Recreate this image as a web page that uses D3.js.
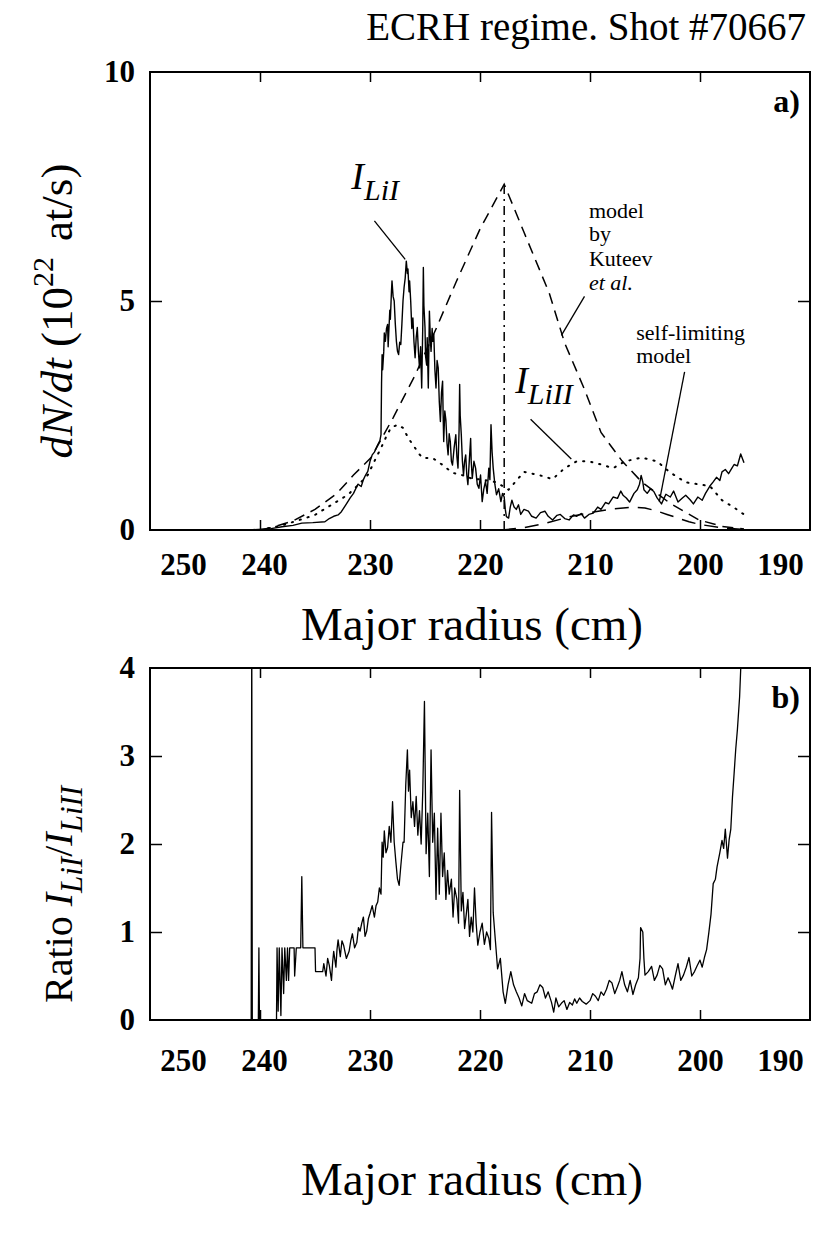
<!DOCTYPE html>
<html><head><meta charset="utf-8">
<script src="https://cdn.jsdelivr.net/npm/d3@7"></script>
<style>
body{margin:0;background:#fff}
svg text{font-family:'Liberation Serif','DejaVu Serif','Times New Roman',serif !important}
</style>
</head><body>
<svg id="c" width="823" height="1253"></svg>
<script>
// ---------------- data ----------------
const xTickValues=[250,240,230,220,210,200,190];
const xInnerTicks=[240,230,220,210,200];
const yTicksA=[0,5,10];
const yTicksB=[0,1,2,3,4];

// panel a: I_LiI (solid)
const intensityLiI=[[241,0],[239,0.03],[238,0.07],[237,0.1],[236.2,0.15],[235.2,0.16],[234.1,0.18],[233.7,0.25],[233.3,0.3],[232.9,0.33],[232.6,0.4],[232.2,0.55],[231.8,0.7],[231.5,0.8],[231.1,1.0],[230.8,0.95],[230.6,1.1],[230.4,1.2],[230.2,1.28],[230.0,1.5],[229.8,1.64],[229.6,1.7],[229.3,1.86],[229.1,1.95],[229.0,2.08],[228.95,3.2],[228.9,3.83],[228.85,3.5],[228.75,3.9],[228.7,4.3],[228.6,4.12],[228.5,4.4],[228.4,4.49],[228.35,4.0],[228.3,4.27],[228.2,4.8],[228.15,4.6],[228.05,5.2],[228.0,5.44],[227.9,5.1],[227.8,5.0],[227.7,4.5],[227.6,4.12],[227.5,3.9],[227.4,3.83],[227.3,4.1],[227.2,4.05],[227.1,4.5],[227.0,5.0],[226.9,5.3],[226.8,5.5],[226.7,5.87],[226.6,5.6],[226.55,5.7],[226.45,5.2],[226.4,5.44],[226.3,5.0],[226.2,4.4],[226.1,4.63],[226.0,4.1],[225.9,3.76],[225.8,4.2],[225.7,4.42],[225.6,3.9],[225.5,3.54],[225.4,4.0],[225.3,3.1],[225.2,4.5],[225.15,5.73],[225.1,4.9],[225.0,4.42],[224.95,3.8],[224.85,3.6],[224.8,4.2],[224.7,3.1],[224.65,3.9],[224.6,4.78],[224.5,4.1],[224.45,3.9],[224.35,4.4],[224.3,4.12],[224.2,4.27],[224.1,3.5],[224.0,3.1],[223.9,3.7],[223.8,3.54],[223.7,2.8],[223.6,2.37],[223.5,3.0],[223.4,3.25],[223.35,2.5],[223.3,1.93],[223.2,2.6],[223.1,2.4],[223.0,1.9],[222.9,1.64],[222.8,2.1],[222.7,1.93],[222.6,1.5],[222.5,1.42],[222.35,1.8],[222.2,2.08],[222.1,1.6],[222.0,1.35],[221.9,2.2],[221.85,3.18],[221.8,2.5],[221.7,2.08],[221.6,1.5],[221.5,1.2],[221.4,1.5],[221.3,1.64],[221.2,1.2],[221.1,0.99],[221.0,1.4],[220.85,2.0],[220.8,1.5],[220.7,1.13],[220.55,1.5],[220.4,1.35],[220.25,1.0],[220.1,0.91],[219.95,1.2],[219.8,0.62],[219.65,0.9],[219.5,1.06],[219.35,0.8],[219.2,1.35],[219.1,1.1],[219.0,2.3],[218.9,1.7],[218.8,1.35],[218.65,1.0],[218.5,0.77],[218.3,0.9],[218.1,0.62],[217.95,0.8],[217.8,0.72],[217.7,0.45],[217.6,0.29],[217.4,0.26],[217.25,0.5],[217.1,0.65],[216.9,0.5],[216.7,0.45],[216.5,0.55],[216.3,0.34],[216.0,0.45],[215.6,0.41],[215.3,0.3],[214.9,0.26],[214.5,0.38],[214.1,0.41],[213.8,0.3],[213.4,0.22],[213.0,0.32],[212.7,0.34],[212.3,0.25],[211.9,0.22],[211.5,0.33],[211.2,0.30],[210.8,0.36],[210.5,0.26],[210.1,0.34],[209.7,0.37],[209.3,0.5],[209.0,0.45],[208.6,0.6],[208.3,0.57],[207.9,0.72],[207.5,0.69],[207.2,0.85],[207.0,0.76],[206.7,0.7],[206.4,0.61],[206.0,0.8],[205.7,0.88],[205.5,1.0],[205.35,1.19],[205.2,1.05],[205.1,0.88],[204.8,0.80],[204.5,0.9],[204.2,0.84],[203.9,0.7],[203.5,0.57],[203.1,0.78],[202.7,0.72],[202.4,0.85],[202.0,0.61],[201.6,0.7],[201.3,0.76],[200.9,0.66],[200.6,0.57],[200.2,0.72],[199.8,0.65],[199.5,0.8],[199.1,0.96],[198.8,1.05],[198.5,1.15],[198.2,1.08],[198.0,1.27],[197.7,1.32],[197.4,1.23],[197.1,1.35],[196.9,1.43],[196.6,1.4],[196.3,1.66],[196.0,1.47]];

// panel a: I_LiII (dotted)
const intensityLiII=[[240,0],[238,0.1],[236,0.25],[235,0.33],[233.5,0.55],[232,0.77],[231,1.0],[230.2,1.2],[229.5,1.55],[229,1.79],[228.5,2.05],[228.1,2.23],[227.5,2.3],[227,2.23],[226.5,2.0],[226.1,1.86],[225.5,1.65],[225.2,1.57],[224.3,1.57],[223.4,1.42],[222.5,1.25],[221.5,1.19],[220.5,1.1],[220,1.11],[218.5,1.04],[217.4,0.88],[216,1.27],[214.5,1.19],[213.4,1.11],[212.3,1.35],[211.2,1.5],[210.1,1.5],[209,1.43],[207.9,1.35],[206.8,1.5],[205.3,1.58],[203.9,1.5],[202.8,1.27],[201.3,1.04],[200.2,1.0],[199.1,0.96],[198,0.65],[196.9,0.49],[196,0.34]];

// panel a: model by Kuteev et al. (dashed)
const modelKuteev=[[240,0],[239,0.05],[237,0.2],[235,0.45],[233,0.8],[231.5,1.2],[229.9,1.58],[227.9,2.45],[225.9,3.38],[224.0,4.39],[222.2,5.4],[220,6.57],[217.8,7.55],[216,6.5],[213.7,5.17],[212.3,4.08],[210.5,3.07],[209,2.13],[207.1,1.51],[205.3,1.05],[202.7,0.58],[200.1,0.22],[198,0.08],[196,0.02]];
const peakMarker=[[217.8,0],[217.8,7.55]];

// panel a: self-limiting model (long dash)
const modelSelfLimiting=[[218,0],[216,0.05],[214,0.15],[212,0.28],[210,0.38],[208,0.46],[206,0.5],[205,0.48],[204,0.42],[203,0.34],[202,0.26],[201,0.18],[200,0.12],[198,0.05],[196,0.01]];

// panel b: ratio I_LiI / I_LiII
const ratio=[[241.5,0],[240.8,0],[240.75,4.5],[240.7,0],[240.15,0],[240.1,0.82],[240.05,0],[238.5,0],[238.45,0.82],[238.35,0.1],[238.25,0.82],[238.1,0.05],[238.0,0.82],[237.85,0.3],[237.75,0.82],[237.6,0.45],[237.5,0.82],[237.4,0.45],[237.3,0.82],[236.9,0.82],[236.85,0.5],[236.7,0.82],[236.3,0.82],[236.2,1.63],[236.1,0.82],[235.0,0.82],[234.95,0.55],[234.3,0.55],[234.2,0.64],[234.0,0.5],[233.85,0.7],[233.7,0.62],[233.5,0.45],[233.4,0.65],[233.3,0.78],[233.1,0.6],[233.0,0.8],[232.9,0.91],[232.7,0.72],[232.55,0.9],[232.4,0.85],[232.15,0.7],[231.9,0.78],[231.75,0.9],[231.6,0.98],[231.4,0.82],[231.2,0.88],[231.05,1.05],[230.9,1.01],[230.75,1.1],[230.6,1.17],[230.45,0.95],[230.3,1.01],[230.15,1.15],[230.0,1.21],[229.8,1.3],[229.6,1.17],[229.45,1.3],[229.3,1.34],[229.15,1.5],[229.0,1.43],[228.9,2.02],[228.8,1.85],[228.7,2.15],[228.55,1.9],[228.4,1.96],[228.25,2.2],[228.1,2.02],[227.95,2.48],[227.8,2.02],[227.65,1.8],[227.5,1.6],[227.35,1.53],[227.2,1.75],[227.0,2.02],[226.9,2.02],[226.75,2.67],[226.6,3.07],[226.5,2.6],[226.4,2.84],[226.25,2.3],[226.1,2.48],[225.95,2.2],[225.8,2.54],[225.65,2.1],[225.5,2.38],[225.35,2.0],[225.2,2.61],[225.05,3.62],[224.9,1.89],[224.75,2.35],[224.6,1.63],[224.45,3.07],[224.3,2.02],[224.15,2.35],[224.0,1.37],[223.85,2.18],[223.7,1.43],[223.55,2.35],[223.4,1.63],[223.25,1.9],[223.1,1.37],[222.95,1.7],[222.8,1.43],[222.6,1.6],[222.45,1.17],[222.3,1.5],[222.1,1.37],[221.95,1.1],[221.85,2.61],[221.7,1.24],[221.55,1.45],[221.4,1.04],[221.25,1.2],[221.1,1.37],[220.95,0.95],[220.8,1.17],[220.65,1.0],[220.5,1.5],[220.35,1.1],[220.2,0.85],[220.0,1.0],[219.8,1.1],[219.6,0.86],[219.4,1.0],[219.2,0.93],[219.05,0.8],[218.95,2.36],[218.8,1.22],[218.6,0.9],[218.4,0.58],[218.15,0.7],[217.9,0.32],[217.7,0.19],[217.45,0.4],[217.2,0.55],[216.95,0.4],[216.7,0.32],[216.45,0.25],[216.2,0.16],[215.95,0.3],[215.7,0.22],[215.3,0.19],[215.05,0.3],[214.8,0.32],[214.55,0.4],[214.3,0.37],[214.05,0.25],[213.8,0.32],[213.5,0.2],[213.3,0.09],[213.1,0.25],[212.85,0.15],[212.6,0.19],[212.35,0.22],[212.1,0.12],[211.85,0.2],[211.6,0.17],[211.4,0.24],[211.2,0.19],[210.95,0.25],[210.7,0.21],[210.35,0.18],[210.0,0.22],[209.75,0.3],[209.5,0.27],[209.25,0.22],[209.0,0.32],[208.75,0.28],[208.5,0.35],[208.25,0.45],[208.0,0.42],[207.75,0.3],[207.5,0.38],[207.3,0.45],[207.1,0.55],[206.85,0.4],[206.6,0.32],[206.35,0.45],[206.1,0.29],[205.85,0.4],[205.6,0.48],[205.45,0.7],[205.4,1.05],[205.2,1.0],[205.1,0.7],[205.0,0.51],[204.7,0.55],[204.4,0.61],[204.15,0.45],[203.9,0.51],[203.65,0.62],[203.4,0.58],[203.15,0.4],[202.9,0.48],[202.7,0.42],[202.5,0.35],[202.25,0.5],[202.0,0.64],[201.75,0.45],[201.5,0.51],[201.25,0.6],[201.0,0.71],[200.75,0.5],[200.5,0.55],[200.25,0.62],[200.0,0.68],[199.8,0.6],[199.6,0.71],[199.4,0.8],[199.2,0.99],[199.0,1.2],[198.8,1.55],[198.6,1.6],[198.45,1.74],[198.2,1.9],[198.0,2.04],[197.85,1.95],[197.7,2.17],[197.5,1.84],[197.35,2.05],[197.2,2.17],[197.05,2.53],[196.9,2.8],[196.75,3.08],[196.6,3.3],[196.4,3.67],[196.2,4.3]];

// ---------------- drawing ----------------
const SERIF="'Liberation Serif','DejaVu Serif','Times New Roman',serif";
const svg=d3.select("#c").attr("font-family",SERIF);
const L=150,R=810;
const panels={a:{top:72,bottom:530,titleY:640,tickY:20},b:{top:668,bottom:1020,titleY:1195,tickY:26}};

function txt(g){return g.append("text").attr("font-family",SERIF).attr("fill","#000");}

function makePanel(p,yMax,yTicks,name,clipId){
  const x=d3.scaleLinear().domain([250,190]).range([L,R]);
  const y=d3.scaleLinear().domain([0,yMax]).range([p.bottom,p.top]);
  const g=svg.append("g");
  g.append("clipPath").attr("id",clipId).append("rect")
    .attr("x",L).attr("y",p.top).attr("width",R-L).attr("height",p.bottom-p.top);
  g.append("g").attr("transform",`translate(0,${p.bottom})`)
    .call(d3.axisTop(x).tickValues(xInnerTicks).tickSize(10).tickFormat(""))
    .call(a=>a.select(".domain").remove());
  g.append("g").attr("transform",`translate(0,${p.top})`)
    .call(d3.axisBottom(x).tickValues(xInnerTicks).tickSize(10).tickFormat(""))
    .call(a=>a.select(".domain").remove());
  const inner=yTicks.filter(v=>v>0&&v<yMax);
  g.append("g").attr("transform",`translate(${L},0)`)
    .call(d3.axisRight(y).tickValues(inner).tickSize(12).tickFormat(""))
    .call(a=>a.select(".domain").remove());
  g.append("g").attr("transform",`translate(${R},0)`)
    .call(d3.axisLeft(y).tickValues(inner).tickSize(12).tickFormat(""))
    .call(a=>a.select(".domain").remove());
  g.selectAll(".tick line").attr("stroke","#000").attr("stroke-width",1.5);
  const xl=g.append("g").attr("transform",`translate(0,${p.bottom+p.tickY})`)
    .call(d3.axisBottom(x).tickValues(xTickValues).tickSize(0).tickFormat(d3.format("d")));
  xl.attr("font-family",SERIF).select(".domain").remove();
  xl.selectAll("text").attr("font-size",31).attr("font-weight","bold")
    .attr("font-family",SERIF).attr("fill","#000")
    .attr("dx",d=>d===250?33:d===190?-30:d===240?4:0);
  const yl=g.append("g").attr("transform",`translate(${L-12},0)`)
    .call(d3.axisLeft(y).tickValues(yTicks).tickSize(0).tickFormat(d3.format("d")));
  yl.attr("font-family",SERIF).select(".domain").remove();
  yl.selectAll("text").attr("font-size",31).attr("font-weight","bold")
    .attr("font-family",SERIF).attr("fill","#000");
  g.append("rect").attr("x",L).attr("y",p.top).attr("width",R-L).attr("height",p.bottom-p.top)
    .attr("fill","none").attr("stroke","#000").attr("stroke-width",2);
  txt(g).attr("x",R-10).attr("y",p.top+40).attr("text-anchor","end")
    .attr("font-size",32).attr("font-weight","bold").text(name);
  txt(g).attr("x",(L+R)/2-8).attr("y",p.titleY).attr("text-anchor","middle")
    .attr("font-size",47).text("Major radius (cm)");
  return {x,y,g};
}

// title
txt(svg).attr("x",806).attr("y",40).attr("text-anchor","end")
  .attr("font-size",39).text("ECRH regime. Shot #70667");

// ---- panel a
const A=makePanel(panels.a,10,yTicksA,"a)","clipA");
const lineA=d3.line().x(d=>A.x(d[0])).y(d=>A.y(d[1]));
const da=A.g.append("g").attr("clip-path","url(#clipA)").attr("fill","none").attr("stroke","#000");
da.append("path").datum(modelKuteev).attr("d",lineA).attr("stroke-width",1.5).attr("stroke-dasharray","11,7");
da.append("path").datum(peakMarker).attr("d",lineA).attr("stroke-width",1.5).attr("stroke-dasharray","9,5,2,5");
da.append("path").datum(modelSelfLimiting).attr("d",lineA).attr("stroke-width",1.5).attr("stroke-dasharray","14,9");
da.append("path").datum(intensityLiII).attr("d",lineA).attr("stroke-width",2).attr("stroke-dasharray","1.2,7").attr("stroke-linecap","round");
da.append("path").datum(intensityLiI).attr("d",lineA).attr("stroke-width",1.4).attr("stroke-linejoin","round");

// y title panel a
const yt=txt(svg).attr("transform",`translate(72,${(panels.a.top+panels.a.bottom)/2+10}) rotate(-90)`)
  .attr("text-anchor","middle").attr("font-size",45);
yt.append("tspan").attr("font-style","italic").text("dN/dt");
yt.append("tspan").text(" (10");
yt.append("tspan").attr("font-size",30).attr("dy",-19).text("22");
yt.append("tspan").attr("dy",19).attr("dx",16).text("at/s)");

// annotations panel a
function subLabel(g,sc,cx,cy,sub){
  const t=txt(g).attr("x",sc.x(cx)).attr("y",sc.y(cy)).attr("font-style","italic").attr("font-size",38);
  t.append("tspan").text("I");
  t.append("tspan").attr("font-size",30).attr("dy",11).text(sub);
}
function pointer(g,sc,a,b){
  g.append("line").attr("x1",sc.x(a[0])).attr("y1",sc.y(a[1])).attr("x2",sc.x(b[0])).attr("y2",sc.y(b[1]))
    .attr("stroke","#000").attr("stroke-width",1.3);
}
subLabel(A.g,A,231.7,7.45,"LiI");
pointer(A.g,A,[229.6,6.75],[226.8,5.91]);
subLabel(A.g,A,216.8,3.0,"LiII");
pointer(A.g,A,[215.4,2.42],[211.7,1.55]);
const kLines=[["model",6.81,false],["by",6.31,false],["Kuteev",5.77,false],["et al.",5.24,true]];
kLines.forEach(([s,v,it])=>{
  txt(A.g).attr("x",A.x(210.1)).attr("y",A.y(v)).attr("font-size",22)
    .attr("font-style",it?"italic":"normal").text(s);
});
pointer(A.g,A,[210.5,5.1],[212.6,4.25]);
[["self-limiting",4.15],["model",3.65]].forEach(([s,v])=>{
  txt(A.g).attr("x",A.x(205.8)).attr("y",A.y(v)).attr("font-size",22).text(s);
});
pointer(A.g,A,[201.4,3.45],[203.7,0.62]);

// ---- panel b
const B=makePanel(panels.b,4,yTicksB,"b)","clipB");
const lineB=d3.line().x(d=>B.x(d[0])).y(d=>B.y(d[1]));
B.g.append("g").attr("clip-path","url(#clipB)").append("path").datum(ratio).attr("d",lineB)
  .attr("fill","none").attr("stroke","#000").attr("stroke-width",1.3).attr("stroke-linejoin","round");

const yb=txt(svg).attr("transform",`translate(72,1003) rotate(-90)`)
  .attr("text-anchor","start").attr("font-size",40);
yb.append("tspan").text("Ratio ");
yb.append("tspan").attr("font-style","italic").text("I");
yb.append("tspan").attr("font-style","italic").attr("font-size",31).attr("dy",10).text("LiI");
yb.append("tspan").attr("dy",-10).text("/");
yb.append("tspan").attr("font-style","italic").text("I");
yb.append("tspan").attr("font-style","italic").attr("font-size",31).attr("dy",10).text("LiII");
</script>
</body></html>
